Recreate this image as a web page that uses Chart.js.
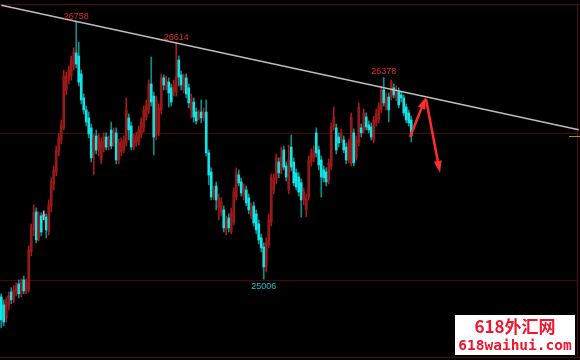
<!DOCTYPE html>
<html>
<head>
<meta charset="utf-8">
<script src="https://cdn.jsdelivr.net/npm/chart.js@4.4.1/dist/chart.umd.min.js"></script>
<style>
  html, body { margin: 0; padding: 0; background: #000; }
  #wrap { position: relative; width: 580px; height: 360px; }
  #mark { position: absolute; left: 455px; top: 315px; width: 120px; height: 40px; background: #fff; color: #f0142d; text-align: center; }
  #mark .l1 { position: absolute; left: 0; right: 0; top: 1px; font: bold 17px "Noto Sans CJK SC", sans-serif; line-height: 20px; }
  #mark .l2 { position: absolute; left: 0; right: 0; top: 21px; font: bold 14.5px "DejaVu Sans Mono", monospace; line-height: 18px; letter-spacing: 0; }
</style>
</head>
<body>
<div id="wrap">
  <canvas id="chart" width="580" height="360"></canvas>
  <div id="mark"><div class="l1">618外汇网</div><div class="l2">618waihui.com</div></div>
</div>
<script>
// candle data (one entry per bar, oldest first)
var opens = [
	24885, 24831, 24743, 24824, 24919, 24865, 24919, 24974, 24906, 25001, 24926,
	24933, 25191, 25341, 25463, 25287, 25436, 25436, 25429, 25327,
	25504, 25654, 25735, 25871, 25953, 26035, 26293, 26361, 26388, 26456, 26545, 26524,
	26402, 26239, 26157, 26103, 26035, 25871, 25980, 25885,
	25817, 25899, 25973, 25912, 26021, 25933, 26001, 25817, 25871, 25885,
	25933, 26103, 26048, 25905, 25933, 25939, 25994, 26035, 26109, 26157,
	26334, 26252, 25987, 26007, 26157, 26375, 26320, 26347, 26307, 26279,
	26279, 26497, 26395, 26293, 26375, 26307, 26157, 26211, 26143, 26103,
	26143, 26103, 26143, 25865, 25735, 25565, 25640, 25491, 25463, 25477,
	25341, 25423, 25327, 25395, 25565, 25715, 25667, 25572, 25613, 25559,
	25436, 25504, 25450, 25382, 25287, 25225, 25089, 25239, 25395, 25613,
	25681, 25803, 25749, 25885, 25776, 25613, 25905, 25803, 25729, 25701,
	25661, 25545, 25477, 25565, 25803, 25831, 26001, 25885, 25817, 25749,
	25735, 25681, 25769, 26041, 26035, 25973, 25953, 25953, 25905, 25817,
	25797, 26001, 25837, 25933, 26035, 26021, 26109, 26055, 26041, 25953,
	26069, 26089, 26157, 26293, 26177, 26245, 26245, 26307, 26239, 26279,
	26259, 26239, 26177, 26137, 26089
];
var closes = [
	24729, 24715, 24851, 24892, 24865, 24933, 24960, 24906, 24981, 24926, 24987,
	25205, 25355, 25463, 25273, 25436, 25327, 25436, 25341, 25511,
	25667, 25749, 25885, 25967, 26048, 26388, 26388, 26429, 26497, 26551, 26470, 26347,
	26225, 26157, 26075, 25994, 25831, 25967, 25885, 25967,
	25939, 25973, 25905, 25953, 25912, 26001, 25817, 25933, 25939, 25953,
	26157, 26021, 25905, 25967, 25980, 26021, 26075, 26157, 26191, 26334,
	26211, 25973, 26225, 26171, 26375, 26327, 26361, 26273, 26211, 26327,
	26381, 26381, 26327, 26375, 26266, 26205, 26239, 26109, 26082, 26137,
	26103, 26143, 25865, 25715, 25565, 25613, 25545, 25559, 25531, 25355,
	25409, 25355, 25463, 25599, 25729, 25661, 25593, 25627, 25525, 25477,
	25497, 25389, 25341, 25273, 25219, 25089, 25253, 25409, 25695, 25695,
	25831, 25729, 25837, 25769, 25701, 25817, 25769, 25661, 25633, 25599,
	25545, 25599, 25559, 25817, 25865, 25885, 25865, 25783, 25701, 25695,
	25667, 25797, 26041, 26109, 25885, 25933, 26001, 25885, 25817, 25933,
	26109, 25797, 25953, 26177, 26001, 26137, 26041, 26021, 25973, 26089,
	26137, 26177, 26293, 26205, 26245, 26157, 26347, 26259, 26293, 26191,
	26239, 26137, 26089, 26069, 25980
];
var highs = [
	24906, 24865, 24879, 24919, 24947, 24960, 24981, 25001, 25008, 25028, 25008,
	25232, 25382, 25511, 25491, 25463, 25457, 25470, 25450, 25545,
	25695, 25776, 25912, 25994, 26089, 26429, 26415, 26456, 26524, 26579, 26758, 26619,
	26429, 26266, 26184, 26143, 26062, 25994, 26021, 25994,
	25967, 26001, 26001, 25980, 26075, 26035, 26035, 25960, 25967, 25980,
	26239, 26130, 26075, 25994, 26007, 26048, 26103, 26184, 26225, 26361,
	26517, 26279, 26252, 26198, 26402, 26395, 26388, 26375, 26334, 26361,
	26614, 26524, 26422, 26402, 26402, 26334, 26266, 26239, 26171, 26157,
	26225, 26171, 26225, 25885, 25763, 25640, 25667, 25586, 25559, 25504,
	25436, 25450, 25491, 25627, 25763, 25749, 25695, 25654, 25640, 25586,
	25525, 25531, 25477, 25409, 25314, 25253, 25287, 25450, 25722, 25722,
	25858, 25831, 25905, 25912, 25803, 25919, 25987, 25831, 25756, 25729,
	25688, 25627, 25586, 25844, 25892, 25912, 26035, 25912, 25844, 25776,
	25763, 25824, 26069, 26177, 26062, 26001, 26028, 25980, 25933, 25960,
	26137, 26028, 25980, 26205, 26062, 26164, 26137, 26082, 26069, 26116,
	26164, 26205, 26320, 26378, 26273, 26273, 26361, 26334, 26320, 26307,
	26279, 26259, 26198, 26157, 26116
];
var lows = [
	24675, 24688, 24715, 24797, 24838, 24845, 24892, 24879, 24885, 24906, 24906,
	24919, 25164, 25300, 25253, 25266, 25300, 25409, 25287, 25307,
	25463, 25613, 25708, 25844, 25926, 26021, 26259, 26334, 26361, 26429, 26443, 26320,
	26198, 26130, 26048, 25967, 25803, 25715, 25858, 25844,
	25790, 25871, 25885, 25885, 25892, 25912, 25790, 25790, 25844, 25865,
	25912, 25953, 25885, 25885, 25912, 25919, 25967, 26007, 26089, 26130,
	26184, 25851, 25953, 25980, 26130, 26293, 26293, 26177, 26184, 26252,
	26252, 26320, 26293, 26273, 26239, 26171, 26103, 26075, 26062, 26089,
	26069, 26082, 25844, 25647, 25545, 25545, 25477, 25409, 25436, 25327,
	25307, 25327, 25314, 25375, 25545, 25640, 25572, 25545, 25504, 25450,
	25416, 25368, 25314, 25246, 25191, 25006, 25055, 25219, 25368, 25586,
	25654, 25695, 25722, 25749, 25674, 25586, 25742, 25640, 25613, 25572,
	25429, 25511, 25429, 25545, 25776, 25803, 25837, 25749, 25565, 25667,
	25640, 25654, 25749, 26021, 25858, 25905, 25933, 25865, 25790, 25797,
	25776, 25776, 25817, 25912, 25973, 26001, 26021, 26001, 25953, 25933,
	26048, 26069, 26137, 26184, 26157, 26075, 26225, 26239, 26218, 26171,
	26211, 26116, 26069, 26048, 25939
];

// bar slots across the visible window (the right part is still empty)
var slotCount = 232;
var categories = [];
for (var i = 0; i < slotCount; i++) categories.push(String(i + 1));

// price levels with a grid line
var gridLevels = [25000, 26000];
// resistance line, price at first and last slot
var trendStart = 26869;
var trendEnd = 26022;
// marked extremes: bar index, which end, text
var markIdx = [30, 70, 153, 105];
var markEnd = ["high", "high", "high", "low"];
// arrows: [fromIndex, fromPrice, toIndex, toPrice]
var arrows = [
	[163.5, 25973, 169.9, 26245],
	[169.9, 26232, 175.5, 25729]
];

var upBody = "#961a1a", upWick = "#a81818";
var dnBody = "#10e4e4", dnWick = "#0e8f8f";
var flat = "#b8b8b8";

var bodyColors = [], wickColors = [];
for (var i = 0; i < opens.length; i++) {
	if (closes[i] > opens[i]) { bodyColors.push(upBody); wickColors.push(upWick); }
	else if (closes[i] < opens[i]) { bodyColors.push(dnBody); wickColors.push(dnWick); }
	else { bodyColors.push(flat); wickColors.push(flat); }
}

var trend = [];
for (var i = 0; i < slotCount; i++) trend.push(null);
trend[0] = trendStart;
trend[slotCount - 1] = trendEnd;

var frame = {
	id: "frame",
	beforeDatasetsDraw: function (chart) {
		var c = chart.ctx, y = chart.scales.y, a = chart.chartArea;
		c.save();
		c.fillStyle = "#000";
		c.fillRect(0, 0, chart.width, chart.height);
		c.strokeStyle = "#4a0606";
		c.lineWidth = 1;
		for (var g of gridLevels) {
			var py = Math.round(y.getPixelForValue(g)) + 0.5;
			c.beginPath(); c.moveTo(a.left, py); c.lineTo(a.right - 3, py); c.stroke();
		}
		c.strokeStyle = "#5a0808";
		c.beginPath();
		c.moveTo(0, 4.5); c.lineTo(580, 4.5);
		c.moveTo(0, 357.5); c.lineTo(580, 357.5);
		c.moveTo(577.5, 4); c.lineTo(577.5, 358);
		c.stroke();
		c.restore();
	},
	afterDatasetsDraw: function (chart) {
		var c = chart.ctx, x = chart.scales.x, y = chart.scales.y;
		c.save();
		// last price marker on the right edge
		var lp = Math.round(y.getPixelForValue(closes[closes.length - 1])) + 0.5;
		c.strokeStyle = "#9a9a00";
		c.beginPath(); c.moveTo(569, lp); c.lineTo(580, lp); c.stroke();
		// extreme labels
		c.font = '9px "Liberation Sans Narrow", "Liberation Sans", sans-serif';
		c.textAlign = "center";
		for (var k = 0; k < markIdx.length; k++) {
			var i = markIdx[k];
			var px = x.getPixelForValue(i);
			if (markEnd[k] === "high") {
				c.fillStyle = "#e02a2a";
				c.textBaseline = "bottom";
				c.fillText(String(highs[i]), px, y.getPixelForValue(highs[i]) - 1);
			} else {
				c.fillStyle = "#1cc0cc";
				c.textBaseline = "top";
				c.fillText(String(lows[i]), px, y.getPixelForValue(lows[i]) + 3);
			}
		}
		// arrows
		c.strokeStyle = "#ff2c2c";
		c.fillStyle = "#ff2c2c";
		c.lineWidth = 2.5;
		for (var ar of arrows) {
			var x1 = x.getPixelForValue(ar[0]), y1 = y.getPixelForValue(ar[1]);
			var x2 = x.getPixelForValue(ar[2]), y2 = y.getPixelForValue(ar[3]);
			var ang = Math.atan2(y2 - y1, x2 - x1), hl = 12, hw = 4;
			var bx = x2 - hl * Math.cos(ang), by = y2 - hl * Math.sin(ang);
			c.beginPath(); c.moveTo(x1, y1); c.lineTo(bx, by); c.stroke();
			c.beginPath();
			c.moveTo(x2, y2);
			c.lineTo(bx + hw * Math.sin(ang), by - hw * Math.cos(ang));
			c.lineTo(bx - hw * Math.sin(ang), by + hw * Math.cos(ang));
			c.closePath(); c.fill();
		}
		c.restore();
	}
};

var chart = new Chart(document.getElementById("chart").getContext("2d"), {
	type: "bar",
	data: {
		labels: categories,
		datasets: [
			{
				type: "line",
				label: "trend",
				data: trend,
				borderColor: "#bdbdbd",
				borderWidth: 1.5,
				pointRadius: 0,
				spanGaps: true,
				order: 0,
			},
			{
				label: "body",
				data: opens.map(function (o, i) { return [o, closes[i]]; }),
				backgroundColor: bodyColors,
				barThickness: 2,
				minBarLength: 1,
				grouped: false,
				order: 1,
			},
			{
				label: "wick",
				data: lows.map(function (l, i) { return [l, highs[i]]; }),
				backgroundColor: wickColors,
				barThickness: 1,
				grouped: false,
				order: 2,
			},
		],
	},
	options: {
		responsive: false,
		animation: false,
		devicePixelRatio: 1,
		layout: { padding: 0 },
		plugins: { legend: { display: false }, tooltip: { enabled: false } },
		scales: {
			x: { type: "category", display: false, offset: true },
			y: { display: false, min: 24456, max: 26905 },
		},
	},
	plugins: [frame],
});
</script>
</body>
</html>
